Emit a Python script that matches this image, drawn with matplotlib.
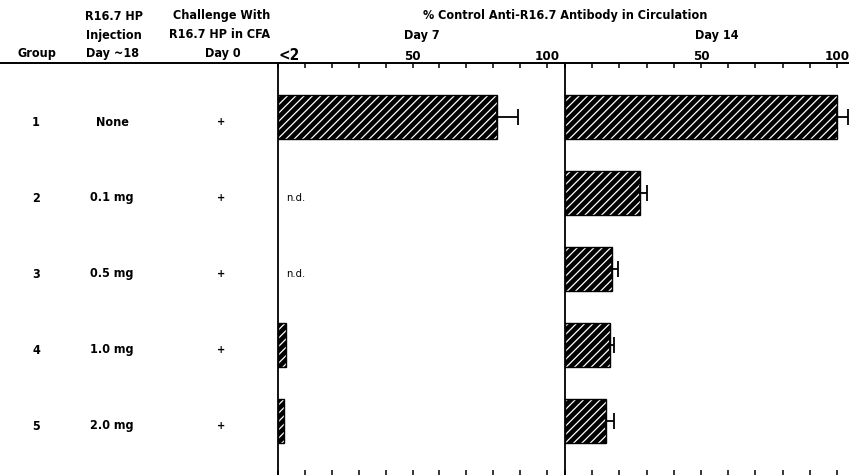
import matplotlib
matplotlib.use("Agg")
import matplotlib.pyplot as plt
from matplotlib.lines import Line2D

plt.rcParams['font.family'] = ['DejaVu Sans']
plt.rcParams['font.stretch'] = 'condensed'
plt.rcParams['font.weight'] = 'bold'
plt.rcParams['hatch.linewidth'] = 0.9

# data
groups = ["1", "2", "3", "4", "5"]
doses = ["None", "0.1 mg", "0.5 mg", "1.0 mg", "2.0 mg"]
challenge = ["+", "+", "+", "+", "+"]
day7 = [81.4, None, None, 3.0, 2.2]       # None = not determined
day7_err = [7.8, 0, 0, 0, 0]
day14 = [100.0, 27.6, 17.3, 16.5, 15.2]
day14_err = [4.0, 2.5, 2.2, 1.5, 2.9]
ticks = list(range(0, 101, 10))

W, H = 849, 475
fig = plt.figure(figsize=(W / 100, H / 100), dpi=100)

def px(x, y):
    return x / W, 1 - y / H

top = 63
rows = [1, 2, 3, 4, 5]
ax1 = fig.add_axes([278 / W, 0, (565 - 278) / W, (H - top) / H])
ax2 = fig.add_axes([565 / W, 0, (W - 565) / W, (H - top) / H])

def hbars(ax, vals, errs):
    for r, v, e in zip(rows, vals, errs):
        if v is None:
            continue
        ax.barh(r, v, height=0.58, color='black', edgecolor='white',
                hatch='////', linewidth=0)
        ax.barh(r, v, height=0.58, fill=False, edgecolor='black', linewidth=1)
        if e > 0:
            ax.errorbar(v, r, xerr=[[0], [e]], fmt='none', ecolor='black',
                        elinewidth=1.3, capsize=6, capthick=1.3, clip_on=False)

hbars(ax1, day7, day7_err)
hbars(ax2, day14, day14_err)

ax1.set_xlim(0, 287 / 2.69)
ax2.set_xlim(0, 284 / 2.72)
for ax in (ax1, ax2):
    ax.set_ylim(5.71, 0.29)
    ax.set_yticks([])
    ax.set_xticks(ticks)
    ax.set_xticklabels([])
    ax.tick_params(axis='x', direction='in', length=3.5, width=1.1,
                   top=True, bottom=True)
    for s in ('right', 'bottom'):
        ax.spines[s].set_visible(False)
    ax.spines['left'].set_linewidth(1.3)
    ax.spines['top'].set_visible(False)
    ax.patch.set_alpha(0)

# n.d. markers for day 7
for r, v in zip(rows, day7):
    if v is None:
        ax1.text(3, r + 0.07, "n.d.", fontsize=8, fontweight='normal',
                 ha='left', va='center')

# header rule across the figure
fig.add_artist(Line2D([0, 1], [1 - top / H, 1 - top / H], color='black',
                      linewidth=1.4, transform=fig.transFigure))

fs = 9
# table columns
for r, g, d, c in zip(rows, groups, doses, challenge):
    y = 117 + 76 * (r - 1) + 5
    fig.text(*px(36, y), g, ha='center', va='center', fontsize=fs)
    fig.text(*px(112, y), d, ha='center', va='center', fontsize=fs)
    fig.text(*px(221, y), c, ha='center', va='center', fontsize=8)

fig.text(*px(37, 54), "Group", ha='center', va='center', fontsize=fs)
fig.text(*px(114, 16), "R16.7 HP", ha='center', va='center', fontsize=fs)
fig.text(*px(114, 35), "Injection", ha='center', va='center', fontsize=fs)
fig.text(*px(113, 54), "Day ~18", ha='center', va='center', fontsize=fs)
fig.text(*px(222, 16), "Challenge With", ha='center', va='center', fontsize=fs)
fig.text(*px(220, 35), "R16.7 HP in CFA", ha='center', va='center', fontsize=fs)
fig.text(*px(223, 54), "Day 0", ha='center', va='center', fontsize=fs)
fig.text(*px(565, 16), "% Control Anti-R16.7 Antibody in Circulation",
         ha='center', va='center', fontsize=fs)
fig.text(*px(422, 35), "Day 7", ha='center', va='center', fontsize=fs)
fig.text(*px(717, 35), "Day 14", ha='center', va='center', fontsize=fs)

# axis value labels above the rule
ax1.text(0, 1.0, "<2", transform=ax1.get_xaxis_transform(), ha='left',
         va='bottom', fontsize=11)
for ax in (ax1, ax2):
    for t in (50, 100):
        ax.text(t, 1.0, str(t), transform=ax.get_xaxis_transform(),
                ha='center', va='bottom', fontsize=9.5)

fig.savefig("out.png", dpi=100)
